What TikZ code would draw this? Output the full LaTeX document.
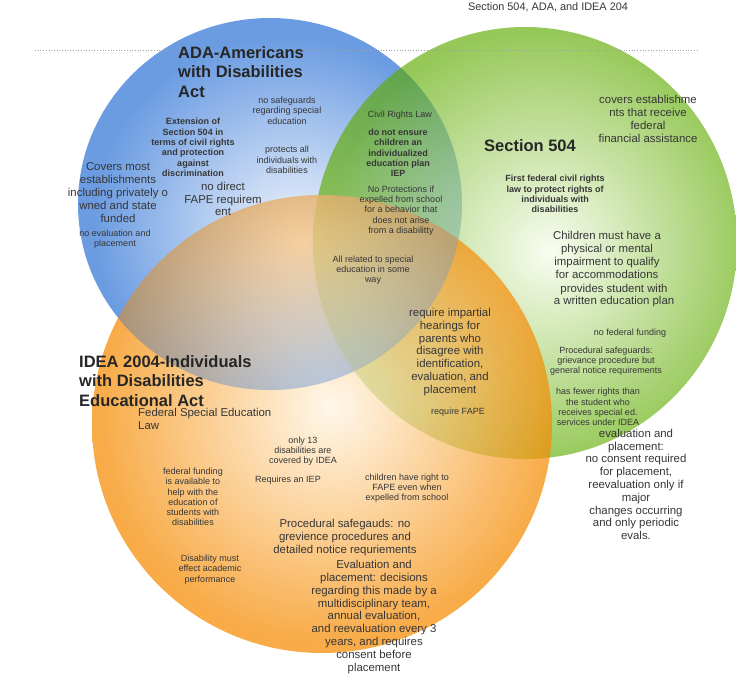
\documentclass[tikz,border=0pt]{standalone}
\usepackage{fontspec}
\setmainfont{Liberation Sans}
\newcommand{\notefont}{\fontsize{9}{10.3}\selectfont}
\newcommand{\bodyfont}{\fontsize{11.4}{12.8}\selectfont}
\newcommand{\headfont}{\fontsize{16.5}{19.5}\selectfont\bfseries}
\newcommand{\captionfont}{\fontsize{10.9}{13}\selectfont}
\definecolor{VennInk}{HTML}{363636}
\definecolor{VennHead}{HTML}{262626}
\definecolor{VennRule}{HTML}{A0A0A0}
\definecolor{AdaEdge}{HTML}{6B9CE2}
\definecolor{AdaCore}{HTML}{F4F7FD}
\definecolor{SecEdge}{HTML}{5EAB00}
\definecolor{SecCore}{HTML}{F5FBE8}
\definecolor{IdeaEdge}{HTML}{F58A00}
\definecolor{IdeaCore}{HTML}{FFF5E4}
\usepackage{tikz}
\pgfdeclareradialshading{adafill}{\pgfpoint{4bp}{-5bp}}{color(0bp)=(AdaCore); color(25bp)=(AdaEdge); color(50bp)=(AdaEdge)}
\pgfdeclareradialshading{secfill}{\pgfpoint{3bp}{-1bp}}{color(0bp)=(SecCore); color(25bp)=(SecEdge); color(50bp)=(SecEdge)}
\pgfdeclareradialshading{ideafill}{\pgfpoint{1bp}{2bp}}{color(0bp)=(IdeaCore); color(25bp)=(IdeaEdge); color(50bp)=(IdeaEdge)}

\begin{document}
\begin{tikzpicture}[x=1pt,y=-1pt,
        note/.style={
            text=VennInk,
            align=center,
            inner sep=0pt,
            font=\notefont
        },
        boldnote/.style={
            note,
            font=\notefont\bfseries
        },
        body/.style={
            note,
            font=\bodyfont
        },
        heading/.style={
            text=VennHead,
            align=left,
            inner sep=0pt,
            font=\headfont
        }
    ]
        \useasboundingbox (0,0) rectangle (736,693);

        \shade[shading=adafill] (270,204) ellipse [x radius=192pt, y radius=186pt];
        \shade[shading=secfill, fill opacity=0.65] (525,243) ellipse [x radius=212pt, y radius=216pt];
        \shade[shading=ideafill, fill opacity=0.72] (322,424) ellipse [x radius=230pt, y radius=229pt];
        \begin{scope}
            \clip (322,424) ellipse [x radius=230pt, y radius=229pt];
            \shade[shading=adafill, fill opacity=0.35] (270,204) ellipse [x radius=192pt, y radius=186pt];
        \end{scope}

        \coordinate (rule-left) at (35,50);
        \coordinate (rule-right) at (699,50);
        \draw[VennRule, line width=0.7pt, dotted] (rule-left) -- (rule-right);

        \node[note, font=\captionfont] (caption) at (548,7)
            {Section 504, ADA, and IDEA 204};

        \node[heading, anchor=west] (ada-title) at (178,72)
            {ADA-Americans\\with Disabilities\\Act};
        \node[heading] (sec-title) at (530,146) {Section 504};
        \node[heading, anchor=west] (idea-title) at (79,381)
            {IDEA 2004-Individuals\\with Disabilities\\Educational Act};

        \node[note] (ada-safeguards) at (287,110.5)
            {no safeguards\\regarding special\\education};
        \node[boldnote] (ada-extension) at (193,147.5)
            {Extension of\\Section 504 in\\terms of civil rights\\and protection\\against\\discrimination};
        \node[note] (ada-protects) at (287,160)
            {protects all\\individuals with\\disabilities};
        \node[body] (ada-covers) at (118,192.5)
            {Covers most\\establishments\\including privately o\\wned and state\\funded};
        \node[body] (ada-fape) at (223,199)
            {no direct\\FAPE requirem\\ent};
        \node[note] (ada-evaluation) at (115,239)
            {no evaluation and\\placement};

        \node[note] (both-civil) at (400,115) {Civil Rights Law};
        \node[boldnote] (both-iep) at (398,153)
            {do not ensure\\children an\\individualized\\education plan\\IEP};
        \node[note] (both-expelled) at (401,210.5)
            {No Protections if\\expelled from school\\for a behavior that\\does not arise\\from a disabilitty};
        \node[note] (all-related) at (373,270)
            {All related to special\\education in some\\way};

        \node[body] (sec-covers) at (648,119)
            {covers establishme\\nts that receive\\federal\\financial assistance};
        \node[boldnote] (sec-first) at (555,194)
            {First federal civil rights\\law to protect rights of\\individuals with\\disabilities};
        \node[body] (sec-children) at (607,255)
            {Children must have a\\physical or mental\\impairment to qualify\\for accommodations};
        \node[body] (sec-plan) at (614,295.5)
            {provides student with\\a written education plan};
        \node[note] (sec-funding) at (630,333) {no federal funding};
        \node[note] (sec-procedural) at (606,361)
            {Procedural safeguards:\\grievance procedure but\\general notice requirements};
        \node[note] (sec-fewer) at (598,407)
            {has fewer rights than\\the student who\\receives special ed.\\services under IDEA};
        \node[body] (sec-evaluation) at (636,484.5)
            {evaluation and\\placement:\\no consent required\\for placement,\\reevaluation only if\\major\\changes occurring\\and only periodic\\evals.};

        \node[body] (pair-hearings) at (450,352)
            {require impartial\\hearings for\\parents who\\disagree with\\identification,\\evaluation, and\\placement};
        \node[note] (pair-fape) at (458,412) {require FAPE};

        \node[body, anchor=west, align=left] (idea-law) at (138,419)
            {Federal Special Education\\Law};
        \node[note] (idea-thirteen) at (303,451)
            {only 13\\disabilities are\\covered by IDEA};
        \node[note] (idea-iep) at (288,480) {Requires an IEP};
        \node[note] (idea-expelled) at (407,488)
            {children have right to\\FAPE even when\\expelled from school};
        \node[note] (idea-funding) at (193,497)
            {federal funding\\is available to\\help with the\\education of\\students with\\disabilities};
        \node[body] (idea-procedural) at (345,537.5)
            {Procedural safegauds: no\\grevience procedures and\\detailed notice requriements};
        \node[note] (idea-academic) at (210,569.5)
            {Disability must\\effect academic\\performance};
        \node[body] (idea-evaluation) at (374,617)
            {Evaluation and\\placement: decisions\\regarding this made by a\\multidisciplinary team,\\annual evaluation,\\and reevaluation every 3\\years, and requires\\consent before\\placement};
    \end{tikzpicture}
\end{document}
